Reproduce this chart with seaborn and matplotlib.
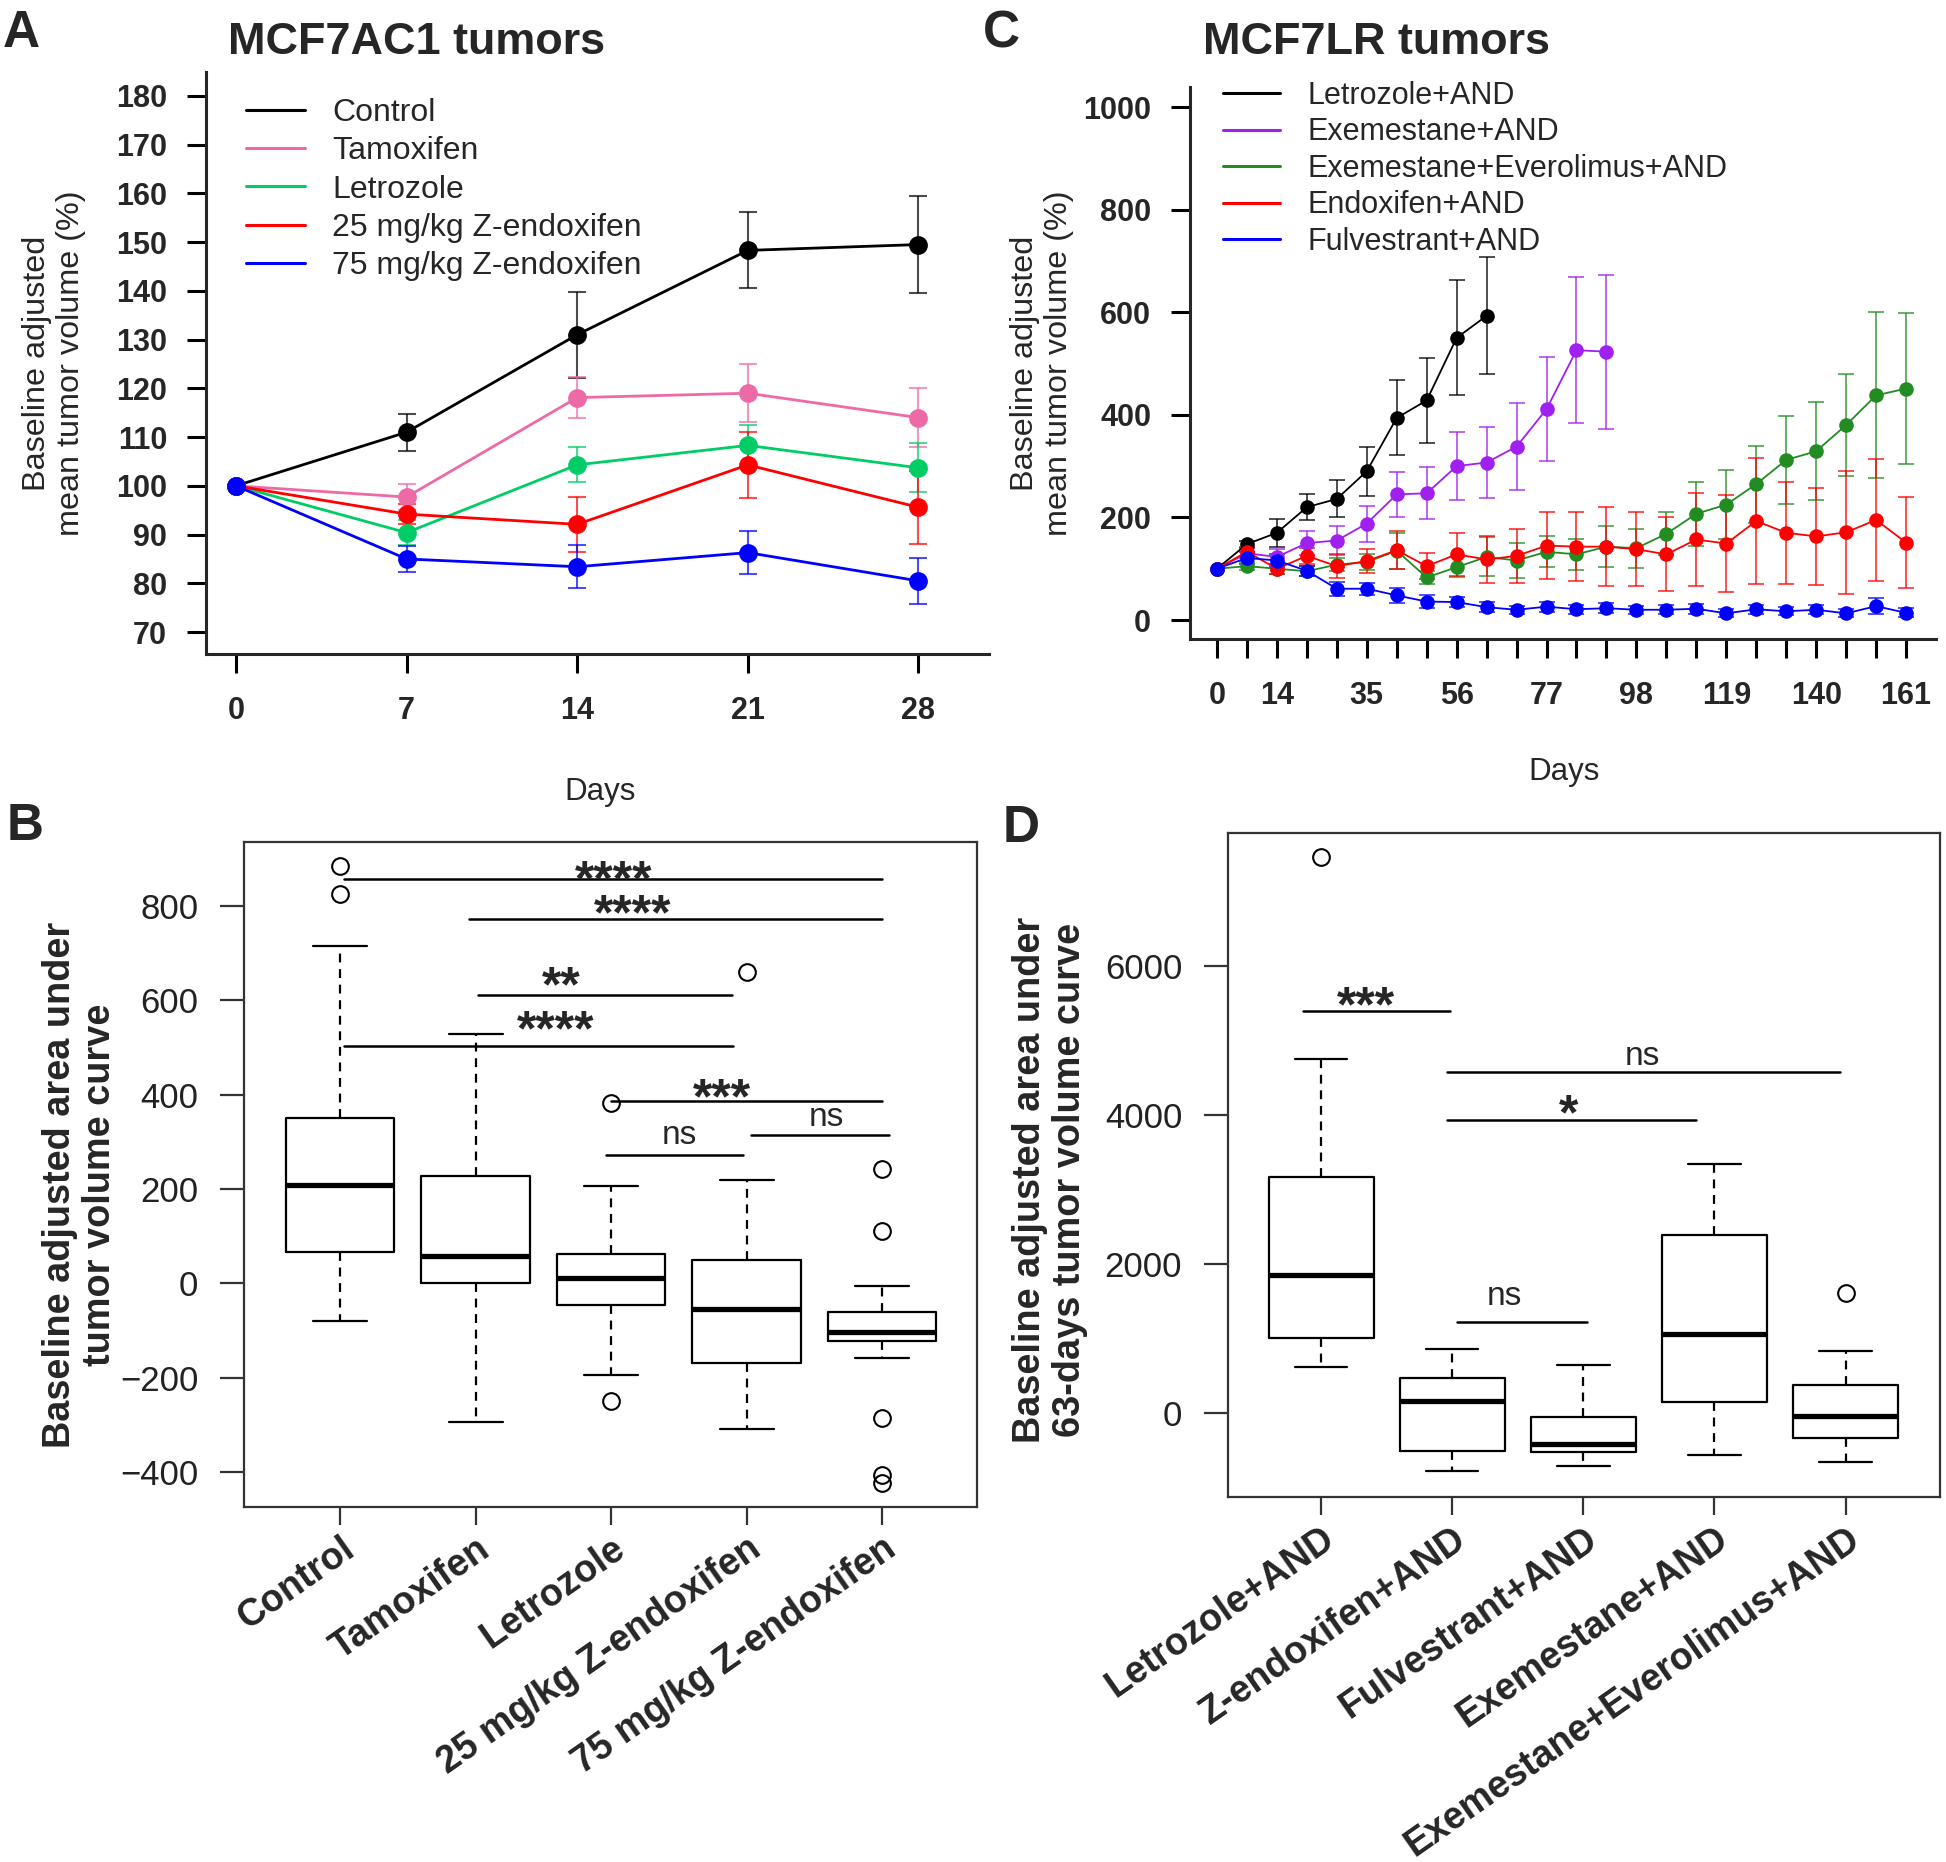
import matplotlib
matplotlib.use("Agg")
import numpy as np
import pandas as pd
import matplotlib.pyplot as plt
from matplotlib.lines import Line2D
import seaborn as sns

W, H = 1946, 1862

# ---------------- panel A: MCF7AC1 tumors (mean +/- SE, % of baseline)
days_a = [0, 7, 14, 21, 28]
groups_a = ["Control", "Tamoxifen", "Letrozole",
            "25 mg/kg Z-endoxifen", "75 mg/kg Z-endoxifen"]
colors_a = ["black", "#EE6AA7", "#00CD66", "#FF0000", "#0000FF"]
control_a = [100, 111.0, 131.0, 148.3, 149.5]
control_a_se = [0, 3.8, 8.8, 7.8, 10.0]
tamox_a = [100, 97.7, 118.1, 119.0, 114.0]
tamox_a_se = [0, 2.7, 4.2, 6.0, 6.0]
letro_a = [100, 90.4, 104.3, 108.3, 103.7]
letro_a_se = [0, 2.5, 3.6, 4.2, 5.0]
endo25_a = [100, 94.2, 92.1, 104.3, 95.6]
endo25_a_se = [0, 2.0, 5.7, 6.8, 7.5]
endo75_a = [100, 85.0, 83.4, 86.3, 80.5]
endo75_a_se = [0, 2.6, 4.4, 4.4, 4.7]

# ---------------- panel C: MCF7LR tumors
days_c = list(range(0, 162, 7))
groups_c = ["Letrozole+AND", "Exemestane+AND", "Exemestane+Everolimus+AND",
            "Endoxifen+AND", "Fulvestrant+AND"]
colors_c = ["black", "#A020F0", "#228B22", "#FF0000", "#0000FF"]
letro_c = [100, 148, 170, 220, 236, 290, 394, 428, 550, 593]
letro_c_se = [0, 7, 27, 26, 36, 48, 73, 83, 112, 114]
exe_c = [100, 130, 123, 150, 155, 188, 245, 247, 300, 307, 338, 411, 526, 523]
exe_c_se = [0, 10, 15, 23, 28, 35, 44, 51, 67, 70, 85, 102, 142, 150]
exeev_c = [100, 105, 100, 95, 108, 113, 135, 83, 103, 123, 116, 133, 128, 143,
           140, 168, 207, 225, 265, 312, 329, 380, 438, 451]
exeev_c_se = [0, 8, 10, 10, 12, 15, 35, 12, 20, 38, 35, 30, 30, 40,
              38, 42, 62, 68, 75, 85, 96, 100, 162, 147]
endo_c = [100, 133, 100, 125, 105, 115, 136, 105, 128, 118, 125, 145, 143, 143,
          138, 128, 157, 149, 193, 170, 163, 171, 195, 151]
endo_c_se = [0, 10, 10, 15, 23, 23, 37, 26, 42, 45, 53, 65, 67, 77,
             72, 72, 91, 94, 123, 100, 95, 120, 118, 89]
fulv_c = [100, 121, 116, 96, 61, 61, 48, 36, 35, 25, 20, 26, 21, 23,
          20, 20, 22, 13, 21, 17, 20, 13, 27, 14]
fulv_c_se = [0, 12, 12, 10, 14, 12, 14, 12, 10, 10, 8, 10, 9, 10,
             8, 9, 10, 8, 9, 8, 9, 8, 16, 9]

# ---------------- panel B: baseline adjusted AUC, MCF7AC1
groups_b = ["Control", "Tamoxifen", "Letrozole",
            "25 mg/kg Z-endoxifen", "75 mg/kg Z-endoxifen"]
med_b = [209, 58, 12, -55, -102]
q1_b = [66, 0, -46, -168, -121]
q3_b = [350, 227, 62, 49, -60]
lo_b = [-80, -293, -194, -309, -158]
hi_b = [716, 528, 207, 219, -6]
fliers_b = [[885, 826], [], [383, -249], [660], [242, 111, -286, -407, -423]]
# significance bars: x from, x to, y, label, label x, label y
sig_b_x0 = [0.03, 0.95, 1.02, 0.03, 2.0, 1.96, 3.03]
sig_b_x1 = [4.0, 4.0, 2.89, 2.90, 4.0, 2.97, 4.05]
sig_b_y = [857, 773, 612, 504, 386, 273, 315]
sig_b_txt = ["****", "****", "**", "****", "***", "ns", "ns"]
sig_b_tx = [2.02, 2.16, 1.63, 1.59, 2.82, 2.5, 3.59]
sig_b_ty = [884, 812, 660, 566, 422, 314, 352]

# ---------------- panel D: 63-day AUC, MCF7LR
groups_d = ["Letrozole+AND", "Z-endoxifen+AND", "Fulvestrant+AND",
            "Exemestane+AND", "Exemestane+Everolimus+AND"]
med_d = [1855, 164, -418, 1064, -45]
q1_d = [1009, -509, -527, 145, -336]
q3_d = [3164, 473, -55, 2391, 382]
lo_d = [618, -782, -718, -564, -664]
hi_d = [4745, 864, 645, 3345, 836]
fliers_d = [[7464], [], [], [], [1609]]
sig_d_x0 = [-0.14, 0.96, 0.96, 1.04]
sig_d_x1 = [0.98, 3.96, 2.86, 2.03]
sig_d_y = [5391, 4582, 3927, 1218]
sig_d_txt = ["***", "ns", "*", "ns"]
sig_d_tx = [0.34, 2.45, 1.89, 1.40]
sig_d_ty = [5650, 4790, 4200, 1564]


def fig_box(left, top, right, bottom):
    return [left / W, 1 - bottom / H, (right - left) / W, (bottom - top) / H]


def fig_text(fig, x, y, s, **kw):
    fig.text(x / W, 1 - y / H, s, **kw)


def line_panel(ax, days, names, means, errs, colors, lw, ms, cap, elw, ealpha):
    rows = []
    for name, m, e in zip(names, means, errs):
        for d, v, s in zip(days, m, e):
            rows.append({"day": d, "value": v, "se": s, "group": name})
    df = pd.DataFrame(rows)
    pal = dict(zip(names, colors))
    for name in names:
        sub = df[(df.group == name) & (df.se > 0)]
        ax.errorbar(sub.day, sub.value, yerr=sub.se, fmt="none",
                    ecolor=pal[name], elinewidth=elw, capsize=cap,
                    capthick=elw, alpha=ealpha)
    sns.lineplot(data=df, x="day", y="value", hue="group", hue_order=names,
                 palette=pal, marker="o", markersize=ms, markeredgewidth=0,
                 linewidth=lw, errorbar=None, legend=False, ax=ax)
    ax.set_xlabel("")
    ax.set_ylabel("")
    sns.despine(ax=ax)
    for s in ["left", "bottom"]:
        ax.spines[s].set_linewidth(2.2)
    ax.tick_params(width=2.2, length=14, labelsize=22, color="black")
    plt.setp(ax.get_xticklabels() + ax.get_yticklabels(), fontweight="bold")


def box_panel(ax, names, med, q1, q3, lo, hi, fliers):
    stats = []
    for n, m, a, b, l, h, f in zip(names, med, q1, q3, lo, hi, fliers):
        stats.append({"label": n, "med": m, "q1": a, "q3": b,
                      "whislo": l, "whishi": h, "fliers": f})
    ax.bxp(stats, positions=range(len(names)), widths=0.8, capwidths=0.4,
           manage_ticks=False,
           boxprops=dict(color="black", linewidth=1.6),
           medianprops=dict(color="black", linewidth=3.8),
           whiskerprops=dict(color="black", linewidth=1.6, linestyle=(0, (4, 3))),
           capprops=dict(color="black", linewidth=1.6),
           flierprops=dict(marker="o", markerfacecolor="none",
                           markeredgecolor="black", markersize=12,
                           markeredgewidth=1.5))
    for s in ax.spines.values():
        s.set_color("#333333")
        s.set_linewidth(1.6)
    ax.set_xticks(range(len(names)))
    ax.set_xticklabels(names, rotation=35, ha="right", rotation_mode="anchor",
                       fontweight="bold", fontsize=27)
    ax.tick_params(axis="x", length=13, width=1.6, color="#333333", pad=4)
    ax.tick_params(axis="y", length=17, width=1.6, color="#333333", pad=16,
                   labelsize=25, labelcolor="#222222")


def sig_bars(ax, x0, x1, y, txt, tx, ty, star_fs, ns_fs):
    for a, b, c in zip(x0, x1, y):
        ax.plot([a, b], [c, c], color="black", lw=1.8)
    for s, x, yy in zip(txt, tx, ty):
        if s == "ns":
            ax.annotate(s, (x, yy), xytext=(0, -0.26 * ns_fs),
                        textcoords="offset points", ha="center",
                        va="baseline", fontsize=ns_fs)
        else:
            ax.annotate(s, (x, yy), xytext=(0, -0.58 * star_fs),
                        textcoords="offset points", ha="center",
                        va="baseline", fontsize=star_fs, fontweight="bold")


sns.set_style("ticks")
plt.rcParams["font.family"] = ["Liberation Sans", "DejaVu Sans"]

fig = plt.figure(figsize=(W / 100, H / 100), dpi=100)

# ---- A
axA = fig.add_axes(fig_box(206, 72, 989, 654))
line_panel(axA, days_a, groups_a,
           [control_a, tamox_a, letro_a, endo25_a, endo75_a],
           [control_a_se, tamox_a_se, letro_a_se, endo25_a_se, endo75_a_se],
           colors_a, lw=2.0, ms=13.5, cap=6.5, elw=1.5, ealpha=0.7)
axA.set_xlim(-1.23, 30.9)
axA.set_ylim(65.5, 184.9)
axA.set_xticks(days_a)
axA.set_yticks(range(70, 181, 10))
axA.tick_params(axis="x", pad=16)
axA.tick_params(axis="y", pad=14)
axA.legend(handles=[Line2D([], [], color=c, lw=2.2) for c in colors_a],
           labels=groups_a, loc="upper left", frameon=False,
           bbox_to_anchor=(246 / W, 1 - 98 / H), bbox_transform=fig.transFigure,
           borderpad=0, borderaxespad=0, fontsize=23, handlelength=1.85,
           handletextpad=0.85, labelspacing=0.26)

# ---- C
axC = fig.add_axes(fig_box(1190, 87, 1936, 639))
line_panel(axC, days_c, groups_c,
           [letro_c, exe_c, exeev_c, endo_c, fulv_c],
           [letro_c_se, exe_c_se, exeev_c_se, endo_c_se, fulv_c_se],
           colors_c, lw=1.3, ms=10.5, cap=6, elw=1.3, ealpha=0.75)
axC.set_xlim(-6.3, 168)
axC.set_ylim(-37, 1039)
axC.set_xticks(days_c)
shown = [0, 14, 35, 56, 77, 98, 119, 140, 161]
axC.set_xticklabels([str(d) if d in shown else "" for d in days_c])
axC.set_yticks(range(0, 1001, 200))
axC.tick_params(axis="x", pad=16)
axC.tick_params(axis="y", pad=14)
plt.setp(axC.get_xticklabels(), fontweight="bold")
axC.legend(handles=[Line2D([], [], color=c, lw=2.2) for c in colors_c],
           labels=groups_c, loc="upper left", frameon=False,
           bbox_to_anchor=(1223 / W, 1 - 81 / H), bbox_transform=fig.transFigure,
           borderpad=0, borderaxespad=0, fontsize=22, handlelength=1.85,
           handletextpad=0.9, labelspacing=0.21)

# ---- B
axB = fig.add_axes(fig_box(244, 842, 977, 1507))
box_panel(axB, groups_b, med_b, q1_b, q3_b, lo_b, hi_b, fliers_b)
axB.set_xlim(-0.71, 4.70)
axB.set_ylim(-474, 936)
axB.set_yticks(range(-400, 801, 200))
sig_bars(axB, sig_b_x0, sig_b_x1, sig_b_y, sig_b_txt, sig_b_tx, sig_b_ty,
         star_fs=36, ns_fs=24)

# ---- D
axD = fig.add_axes(fig_box(1228, 833, 1940, 1497))
box_panel(axD, groups_d, med_d, q1_d, q3_d, lo_d, hi_d, fliers_d)
axD.set_xlim(-0.71, 4.72)
axD.set_ylim(-1128, 7785)
axD.set_yticks(range(0, 6001, 2000))
sig_bars(axD, sig_d_x0, sig_d_x1, sig_d_y, sig_d_txt, sig_d_tx, sig_d_ty,
         star_fs=36, ns_fs=24)

# ---- panel letters, titles, axis labels
for s, x, y in [("A", 3, 47), ("B", 7, 840), ("C", 983, 47), ("D", 1003, 842)]:
    fig_text(fig, x, y, s, fontsize=37, fontweight="bold", va="baseline")
fig_text(fig, 228, 54, "MCF7AC1 tumors", fontsize=32.4, fontweight="bold", va="baseline")
fig_text(fig, 1203, 54, "MCF7LR tumors", fontsize=32.4, fontweight="bold", va="baseline")
fig_text(fig, 54, 363, "Baseline adjusted\nmean tumor volume (%)", fontsize=23.3,
         rotation=90, ha="center", va="center", linespacing=1.2)
fig_text(fig, 1042, 363, "Baseline adjusted\nmean tumor volume (%)", fontsize=23.3,
         rotation=90, ha="center", va="center", linespacing=1.2)
fig_text(fig, 600, 800, "Days", fontsize=22.5, ha="center", va="baseline")
fig_text(fig, 1564, 780, "Days", fontsize=22.5, ha="center", va="baseline")
fig_text(fig, 80, 1185, "Baseline adjusted area under\ntumor volume curve",
         fontsize=27.3, fontweight="bold", rotation=90, ha="center", va="center",
         linespacing=1.15)
fig_text(fig, 1050, 1180, "Baseline adjusted area under\n63-days tumor volume curve",
         fontsize=27.3, fontweight="bold", rotation=90, ha="center", va="center",
         linespacing=1.15)

fig.savefig("out.png", dpi=100, facecolor="white")
